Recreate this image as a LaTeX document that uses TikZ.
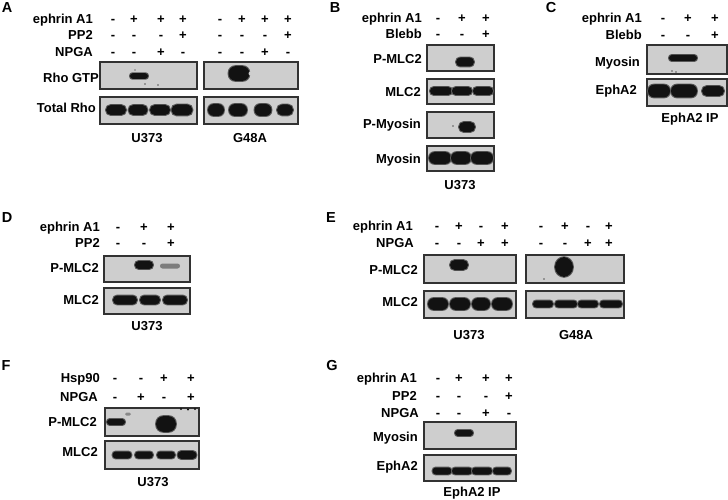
\documentclass[tikz,border=0pt]{standalone}
\usepackage{fontspec}
\setmainfont{Liberation Sans}
\definecolor{blotbg}{RGB}{206,206,206}
\definecolor{blotedge}{RGB}{50,50,50}
\definecolor{bandc}{RGB}{18,18,18}
\definecolor{halo}{RGB}{90,90,90}
\tikzset{
  txt/.style={inner sep=0pt, text height=9.3pt, text depth=0pt, font=\fontsize{13}{15}\selectfont\bfseries},
  lbl/.style={txt, anchor=east},
  sg/.style={txt},
  cell/.style={txt},
  plet/.style={inner sep=0pt, text height=10pt, text depth=0pt, font=\fontsize{14.5}{16}\selectfont\bfseries},
  blot/.style={draw=blotedge, fill=blotbg, line width=1.3pt},
}
\newcommand\bnd[4]{%
  \fill[halo, rounded corners=#4pt] (#1-#3-0.8,#2-#4-0.8) rectangle (#1+#3+0.8,#2+#4+0.8);
  \fill[bandc, rounded corners=#4pt] (#1-#3,#2-#4) rectangle (#1+#3,#2+#4);}
\newcommand\fnt[5]{%
  \fill[#5, rounded corners=#4pt] (#1-#3,#2-#4) rectangle (#1+#3,#2+#4);}
\begin{document}
\begin{tikzpicture}[x=1pt,y=-1pt]
\useasboundingbox (0,0) rectangle (728,500);

% ================= Panel A =================
\node[plet] (pA) at (7,8) {A};
\node[lbl] (A-eph) at (93,19) {ephrin A1};
\node[lbl] (A-pp2) at (93,35) {PP2};
\node[lbl] (A-npga) at (93,52) {NPGA};
\foreach \x/\s [count=\i] in {113/-,134/+,161/+,183/+,220/-,242/+,265/+,288/+}
  \node[sg] (A-e\i) at (\x,19) {\s};
\foreach \x/\s [count=\i] in {113/-,134/-,161/-,183/+,220/-,242/-,265/-,288/+}
  \node[sg] (A-p\i) at (\x,35) {\s};
\foreach \x/\s [count=\i] in {113/-,134/-,161/+,183/-,220/-,242/-,265/+,288/-}
  \node[sg] (A-n\i) at (\x,52) {\s};
\node[lbl] (A-rho) at (99,78) {Rho GTP};
\node[lbl] (A-tot) at (96,108) {Total Rho};
\draw[blot] (100,62) rectangle (197,89);
\draw[blot] (100,97) rectangle (197,124);
\draw[blot] (204,62) rectangle (298,89);
\draw[blot] (204,97) rectangle (298,124);
\bnd{139}{76}{9}{2.8}
\fill[bandc] (135,70) circle (0.7pt);
\fill[halo] (145,84) circle (0.8pt);
\fill[halo] (158,85) circle (0.8pt);
\bnd{116}{110}{10}{5}
\bnd{138}{110}{9.5}{5}
\bnd{160}{110}{10}{5}
\bnd{182}{110}{10.5}{5.5}
\bnd{239}{73.5}{10.5}{7.5}
\fill[blotbg] (250.5,73.5) circle (2pt);
\bnd{216}{110}{8}{6}
\bnd{238}{110}{9}{6}
\bnd{263}{110}{8.5}{6}
\bnd{285}{110}{8}{5.5}
\node[cell] (A-u373) at (147,138) {U373};
\node[cell] (A-g48a) at (250,138) {G48A};

% ================= Panel B =================
\node[plet] (pB) at (335,8) {B};
\node[lbl] (B-eph) at (422,18) {ephrin A1};
\node[lbl] (B-bl) at (422,34) {Blebb};
\foreach \x/\s [count=\i] in {438/-,462/+,486/+}
  \node[sg] (B-e\i) at (\x,18) {\s};
\foreach \x/\s [count=\i] in {438/-,462/-,486/+}
  \node[sg] (B-b\i) at (\x,34) {\s};
\node[lbl] (B-pm) at (422,59) {P-MLC2};
\node[lbl] (B-m) at (421,92) {MLC2};
\node[lbl] (B-pmy) at (421,124) {P-Myosin};
\node[lbl] (B-my) at (421,159) {Myosin};
\draw[blot] (427,45) rectangle (494,71);
\draw[blot] (427,79) rectangle (494,104);
\draw[blot] (427,112) rectangle (494,138);
\draw[blot] (427,146) rectangle (494,171);
\bnd{465}{62}{9}{4.5}
\bnd{441}{91}{11}{4}
\bnd{462}{91}{10}{4}
\bnd{483}{91}{10}{4}
\bnd{467}{127}{8}{5}
\fill[halo] (453,126) circle (0.8pt);
\bnd{440}{158}{11}{6}
\bnd{461}{158}{10}{6}
\bnd{482}{158}{11}{6}
\node[cell] (B-u373) at (460,185) {U373};

% ================= Panel C =================
\node[plet] (pC) at (551,8) {C};
\node[lbl] (C-eph) at (642,18) {ephrin A1};
\node[lbl] (C-bl) at (642,35) {Blebb};
\foreach \x/\s [count=\i] in {663/-,688/+,715/+}
  \node[sg] (C-e\i) at (\x,18) {\s};
\foreach \x/\s [count=\i] in {663/-,688/-,715/+}
  \node[sg] (C-b\i) at (\x,35) {\s};
\node[lbl] (C-my) at (640,62) {Myosin};
\node[lbl] (C-eph2) at (637,90) {EphA2};
\draw[blot] (647,45) rectangle (727,74);
\draw[blot] (647,79) rectangle (727,106);
\bnd{683}{58}{14}{3}
\fill[halo] (672,71) circle (0.8pt);
\fill[halo] (676,72) circle (0.8pt);
\bnd{659}{91}{11}{6.5}
\bnd{684}{91}{13}{6.5}
\bnd{713}{91}{11}{5}
\node[cell] (C-ip) at (690,118) {EphA2 IP};

% ================= Panel D =================
\node[plet] (pD) at (7,217) {D};
\node[lbl] (D-eph) at (100,227) {ephrin A1};
\node[lbl] (D-pp2) at (100,243) {PP2};
\foreach \x/\s [count=\i] in {118/-,144/+,171/+}
  \node[sg] (D-e\i) at (\x,227) {\s};
\foreach \x/\s [count=\i] in {118/-,144/-,171/+}
  \node[sg] (D-p\i) at (\x,243) {\s};
\node[lbl] (D-pm) at (99,268) {P-MLC2};
\node[lbl] (D-m) at (99,300) {MLC2};
\draw[blot] (104,256) rectangle (190,282);
\draw[blot] (104,288) rectangle (190,314);
\bnd{144}{265}{9}{4}
\fnt{170}{266}{10}{2.5}{halo!70!blotbg}
\bnd{125}{300}{12}{4.5}
\bnd{150}{300}{10}{4.5}
\bnd{175}{300}{12}{4.5}
\node[cell] (D-u373) at (147,326) {U373};

% ================= Panel E =================
\node[plet] (pE) at (331,217) {E};
\node[lbl] (E-eph) at (413,226) {ephrin A1};
\node[lbl] (E-npga) at (414,243) {NPGA};
\foreach \x/\s [count=\i] in {437/-,459/+,481/-,505/+,541/-,565/+,588/-,609/+}
  \node[sg] (E-e\i) at (\x,226) {\s};
\foreach \x/\s [count=\i] in {437/-,459/-,481/+,505/+,541/-,565/-,588/+,609/+}
  \node[sg] (E-n\i) at (\x,243) {\s};
\node[lbl] (E-pm) at (418,270) {P-MLC2};
\node[lbl] (E-m) at (418,302) {MLC2};
\draw[blot] (424,255) rectangle (516,283);
\draw[blot] (424,291) rectangle (516,318);
\draw[blot] (526,255) rectangle (624,283);
\draw[blot] (526,291) rectangle (624,318);
\bnd{459}{265}{9}{5}
\bnd{564}{267}{9}{10}
\fill[halo] (544,279) circle (0.8pt);
\bnd{438}{304}{10}{6}
\bnd{460}{304}{10}{6}
\bnd{481}{304}{9}{6}
\bnd{502}{304}{10}{6}
\bnd{543}{304}{10}{3.5}
\bnd{566}{304}{11}{3.5}
\bnd{588}{304}{10}{3.5}
\bnd{611}{304}{11}{3.5}
\node[cell] (E-u373) at (469,335) {U373};
\node[cell] (E-g48a) at (576,335) {G48A};

% ================= Panel F =================
\node[plet] (pF) at (6,365) {F};
\node[lbl] (F-hsp) at (100,378) {Hsp90};
\node[lbl] (F-npga) at (98,397) {NPGA};
\foreach \x/\s [count=\i] in {115/-,141/-,164/+,191/+}
  \node[sg] (F-h\i) at (\x,378) {\s};
\foreach \x/\s [count=\i] in {115/-,141/+,164/-,191/+}
  \node[sg] (F-n\i) at (\x,397) {\s};
\node[lbl] (F-pm) at (97,422) {P-MLC2};
\node[lbl] (F-m) at (98,452) {MLC2};
\draw[blot] (105,408) rectangle (199,436);
\draw[blot] (105,441) rectangle (199,469);
\bnd{116}{422}{9}{3}
\fnt{128}{414}{3}{1.5}{halo!60!blotbg}
\bnd{166}{424}{10}{8}
\fill[bandc] (181,409) circle (1.2pt);
\fill[bandc] (188,409.5) circle (1.2pt);
\fill[bandc] (195,409) circle (1.2pt);
\bnd{122}{455}{9.5}{3.5}
\bnd{144}{455}{9}{3.5}
\bnd{166}{455}{9}{3.5}
\bnd{187}{455}{9.5}{4}
\node[cell] (F-u373) at (153,482) {U373};

% ================= Panel G =================
\node[plet] (pG) at (332,365) {G};
\node[lbl] (G-eph) at (417,378) {ephrin A1};
\node[lbl] (G-pp2) at (417,396) {PP2};
\node[lbl] (G-npga) at (419,413) {NPGA};
\foreach \x/\s [count=\i] in {438/-,459/+,486/+,509/+}
  \node[sg] (G-e\i) at (\x,378) {\s};
\foreach \x/\s [count=\i] in {438/-,459/-,486/-,509/+}
  \node[sg] (G-p\i) at (\x,396) {\s};
\foreach \x/\s [count=\i] in {438/-,459/-,486/+,509/-}
  \node[sg] (G-n\i) at (\x,413) {\s};
\node[lbl] (G-my) at (418,437) {Myosin};
\node[lbl] (G-eph2) at (418,466) {EphA2};
\draw[blot] (424,422) rectangle (516,449);
\draw[blot] (424,455) rectangle (516,481);
\bnd{464}{433}{9}{3}
\bnd{442}{471}{9.5}{3.5}
\bnd{462}{471}{10}{3.5}
\bnd{482}{471}{10}{3.5}
\bnd{502}{471}{9}{3.5}
\node[cell] (G-ip) at (472,492) {EphA2 IP};
\end{tikzpicture}
\end{document}
